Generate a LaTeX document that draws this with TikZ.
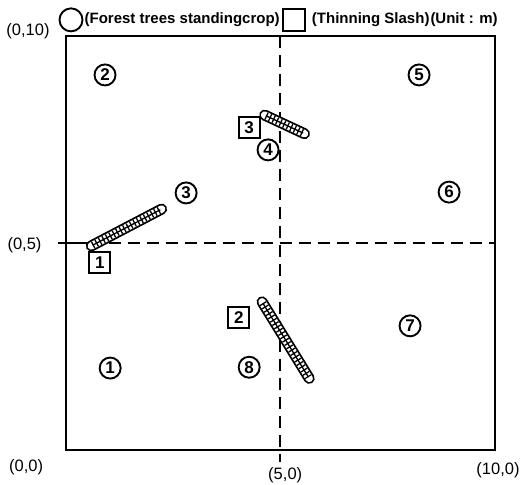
\documentclass[tikz,border=0pt]{standalone}
\usepackage{fontspec}
\setmainfont{Liberation Sans}
\usetikzlibrary{positioning}
\tikzset{
  tree/.style={circle, draw, line width=1.9pt, minimum size=21pt, inner sep=0pt, font=\fontsize{17}{17}\selectfont\bfseries},
  slashno/.style={rectangle, draw, line width=1.9pt, minimum size=21pt, inner sep=0pt, font=\fontsize{17}{17}\selectfont\bfseries},
  slashbar/.style={draw=black, line width=11pt, line cap=round,
    postaction={draw=white, line width=7.4pt, line cap=round},
    postaction={draw=black, line width=7.4pt, line cap=butt, dash pattern=on 1.3pt off 2.6pt, shorten <=1.5pt, shorten >=1.5pt},
    postaction={draw=black, line width=1.3pt, line cap=butt, shorten <=1.5pt, shorten >=1.5pt}},
  axis/.style={line width=2pt},
  half/.style={line width=2pt, dash pattern=on 12pt off 7pt},
  corner/.style={font=\fontsize{16.5}{19}\selectfont},
  legend/.style={font=\fontsize{15}{18}\selectfont\bfseries, inner sep=0pt}
}
\begin{document}
\begin{tikzpicture}[x=42.9pt,y=41.4pt]
\useasboundingbox (-1.538,-0.821) rectangle (10.676,10.870);
% plot area
\coordinate (O) at (0,0); \coordinate (A) at (10,10);
\draw[axis] (O) rectangle (A);
% halves
\coordinate (vtop) at (5,10); \coordinate (vbot) at (5,-0.29);
\draw[half] (vtop) -- (vbot);
\coordinate (hl) at (-0.19,5); \coordinate (hm) at (0.55,5); \coordinate (hr) at (10,5);
\draw[axis] (hl) -- (hm);
\draw[half] (hm) -- (hr);
% corner labels
\node[corner] (l010) at (-0.886,10.12) {(0,10)};
\node[corner] (l05) at (-0.967,4.95) {(0,5)};
\node[corner] (l00) at (-0.93,-0.41) {(0,0)};
\node[corner] (l50) at (5.11,-0.60) {(5,0)};
\node[corner] (l100) at (10.07,-0.48) {(10,0)};
% legend
\node[tree, minimum size=23pt] (lc) at (0.117,10.39) {};
\node[legend, right=1pt of lc] (lt1) {(Forest trees standingcrop)};
\node[slashno, minimum size=22pt, right=2pt of lt1] (ls) {};
\node[legend, right=6pt of ls] (lt2) {(Thinning Slash)\kern1pt(Unit : m)};
% thinning slash
\coordinate (s1a) at (0.59,4.93); \coordinate (s1b) at (2.23,5.82);
\coordinate (s2a) at (4.57,3.58); \coordinate (s2b) at (5.67,1.73);
\coordinate (s3a) at (4.63,8.09); \coordinate (s3b) at (5.56,7.64);
\draw[slashbar] (s1a) -- (s1b);
\draw[slashbar] (s2a) -- (s2b);
\draw[slashbar] (s3a) -- (s3b);
\node[slashno] (n1) at (0.79,4.52) {1};
\node[slashno] (n2) at (4.03,3.21) {2};
\node[slashno] (n3) at (4.27,7.78) {3};
% standing trees
\node[tree] (t1) at (1.03,1.98) {1};
\node[tree] (t2) at (0.91,9.06) {2};
\node[tree] (t3) at (2.80,6.21) {3};
\node[tree] (t4) at (4.71,7.25) {4};
\node[tree] (t5) at (8.23,9.06) {5};
\node[tree] (t6) at (8.93,6.23) {6};
\node[tree] (t7) at (8.02,3.00) {7};
\node[tree] (t8) at (4.27,2.00) {8};
\end{tikzpicture}
\end{document}
